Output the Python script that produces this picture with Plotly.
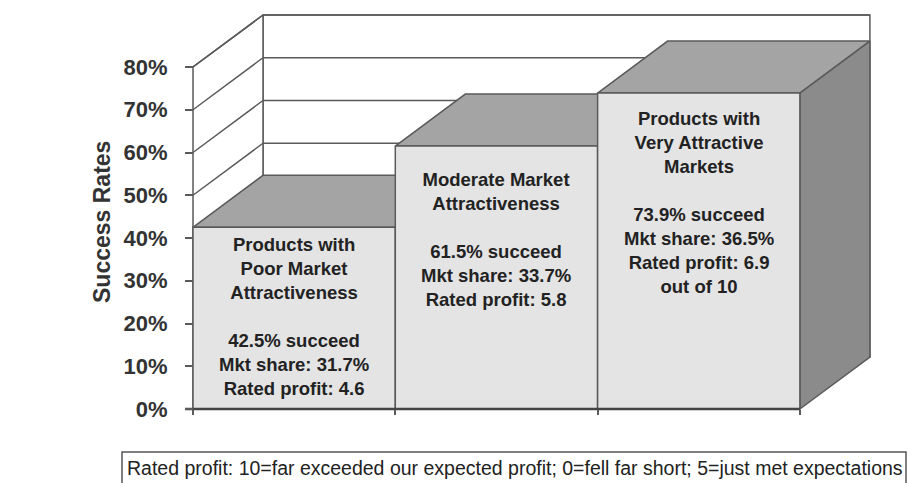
import plotly.graph_objects as go

# ---------------- data ----------------
categories = [
    "Products with<br>Poor Market<br>Attractiveness",
    "Moderate Market<br>Attractiveness",
    "Products with<br>Very Attractive<br>Markets",
]
success = [42.5, 61.5, 73.9]
mkt_share = [31.7, 33.7, 36.5]
rated_profit = [4.6, 5.8, 6.9]
profit_suffix = ["", "", "<br>out of 10"]
y_ticks = [0, 10, 20, 30, 40, 50, 60, 70, 80]
y_tick_labels = ["0%", "10%", "20%", "30%", "40%", "50%", "60%", "70%", "80%"]
y_title = "Success Rates"
footnote = "Rated profit: 10=far exceeded our expected profit; 0=fell far short; 5=just met expectations"

# ---------------- geometry / style ----------------
OFF = 8                                 # page body margin of the html page
W, H = 923 - OFF, 483 - OFF
# positions below are given in window pixels, converted with OFF
L, R, T, B = 180, 900, OFF, 420         # plot area (window pixels)
X0PX, UX = 193, 202.3                   # pixel of x=0, pixels per category
Y0PX, UY = 409, 4.275                   # pixel of 0%, pixels per percent
DX, DY = 70 / UX, 52 / UY               # 3-D depth offset in data units
YMAX = max(y_ticks)
N = len(success)
label_centers = [21.6, 39.6, 48.2]      # vertical centre of text blocks (axis units)

LINE = "#5a5a5a"
FRONT = "#e4e4e4"
TOP = "#a4a4a4"
SIDE = "#8b8b8b"
FONT = "Liberation Sans, Arial, sans-serif"

xr = [(L - X0PX) / UX, (R - X0PX) / UX]
yr = [-(B - Y0PX) / UY, (Y0PX - T) / UY]


def px_to_paper_x(px):
    return (px - L) / (R - L)


def px_to_paper_y(py):
    return (B - py) / (B - T)


def poly(points, fill, name, width=1.5):
    xs = [p[0] for p in points] + [points[0][0]]
    ys = [p[1] for p in points] + [points[0][1]]
    return go.Scatter(x=xs, y=ys, mode="lines", fill="toself", fillcolor=fill,
                      line=dict(color=LINE, width=width), hoverinfo="skip",
                      showlegend=False, name=name)


fig = go.Figure()

# back wall and left wall
fig.add_trace(poly([(DX, DY), (N + DX, DY), (N + DX, YMAX + DY), (DX, YMAX + DY)], "white", "back wall"))
fig.add_trace(poly([(0, 0), (DX, DY), (DX, YMAX + DY), (0, YMAX)], "white", "side wall"))

# gridlines on the walls
gx, gy = [], []
for v in y_ticks[1:]:
    gx += [DX, N + DX, None, 0, DX, None]
    gy += [v + DY, v + DY, None, v, v + DY, None]
fig.add_trace(go.Scatter(x=gx, y=gy, mode="lines", line=dict(color=LINE, width=1.5),
                         hoverinfo="skip", showlegend=False))

# 3-D bars
for i, v in enumerate(success):
    fig.add_trace(poly([(i, v), (i + DX, v + DY), (i + 1 + DX, v + DY), (i + 1, v)], TOP, f"top {i}"))
    fig.add_trace(poly([(i + 1, 0), (i + 1 + DX, DY), (i + 1 + DX, v + DY), (i + 1, v)], SIDE, f"side {i}"))
    fig.add_trace(poly([(i, 0), (i + 1, 0), (i + 1, v), (i, v)], FRONT, f"front {i}"))

# baseline
fig.add_trace(go.Scatter(x=[-8 / UX, N], y=[0, 0], mode="lines",
                         line=dict(color="#444444", width=2.5), hoverinfo="skip", showlegend=False))

# text inside bars
for i, v in enumerate(success):
    txt = (f"{categories[i]}<br><br>{v}% succeed<br>Mkt share: {mkt_share[i]}%"
           f"<br>Rated profit: {rated_profit[i]}{profit_suffix[i]}")
    fig.add_annotation(x=i + 0.5, y=label_centers[i], text=txt, showarrow=False,
                       xanchor="center", yanchor="middle",
                       font=dict(family=FONT, size=18.5, color="#222222", weight="bold"))

# y axis title
fig.add_annotation(xref="paper", yref="paper", x=px_to_paper_x(102), y=px_to_paper_y(222),
                   xanchor="center", yanchor="middle",
                   text=y_title, textangle=-90, showarrow=False,
                   font=dict(family=FONT, size=23, color="#333333", weight="bold"))

# footnote box + text
fig.add_shape(type="rect", xref="paper", yref="paper",
              x0=px_to_paper_x(122), x1=px_to_paper_x(906),
              y0=px_to_paper_y(452), y1=px_to_paper_y(495),
              line=dict(color="#555555", width=1.5), fillcolor="rgba(0,0,0,0)")
fig.add_annotation(xref="paper", yref="paper", x=px_to_paper_x(515), y=px_to_paper_y(468),
                   text=footnote, showarrow=False, xanchor="center", yanchor="middle",
                   font=dict(family=FONT, size=19.5, color="#222222"))

fig.update_layout(
    width=W, height=H,
    margin=dict(l=L - OFF, r=923 - R, t=T - OFF, b=483 - B),
    paper_bgcolor="white", plot_bgcolor="white",
    showlegend=False,
    xaxis=dict(range=xr, showgrid=False, zeroline=False, showline=False,
               tickmode="array", tickvals=list(range(N + 1)), ticks="outside",
               ticklen=5, tickwidth=1.5, tickcolor=LINE, showticklabels=False,
               anchor="free", position=px_to_paper_y(Y0PX), fixedrange=True),
    yaxis=dict(range=yr, showgrid=False, zeroline=False, showline=False,
               tickmode="array", tickvals=y_ticks, ticktext=y_tick_labels,
               ticks="outside", ticklen=8, tickwidth=1.5, tickcolor=LINE,
               ticklabelstandoff=13,
               tickfont=dict(family=FONT, size=22, color="#333333", weight="bold"),
               anchor="free", position=px_to_paper_x(X0PX), fixedrange=True),
)

fig.write_html("out.html")
